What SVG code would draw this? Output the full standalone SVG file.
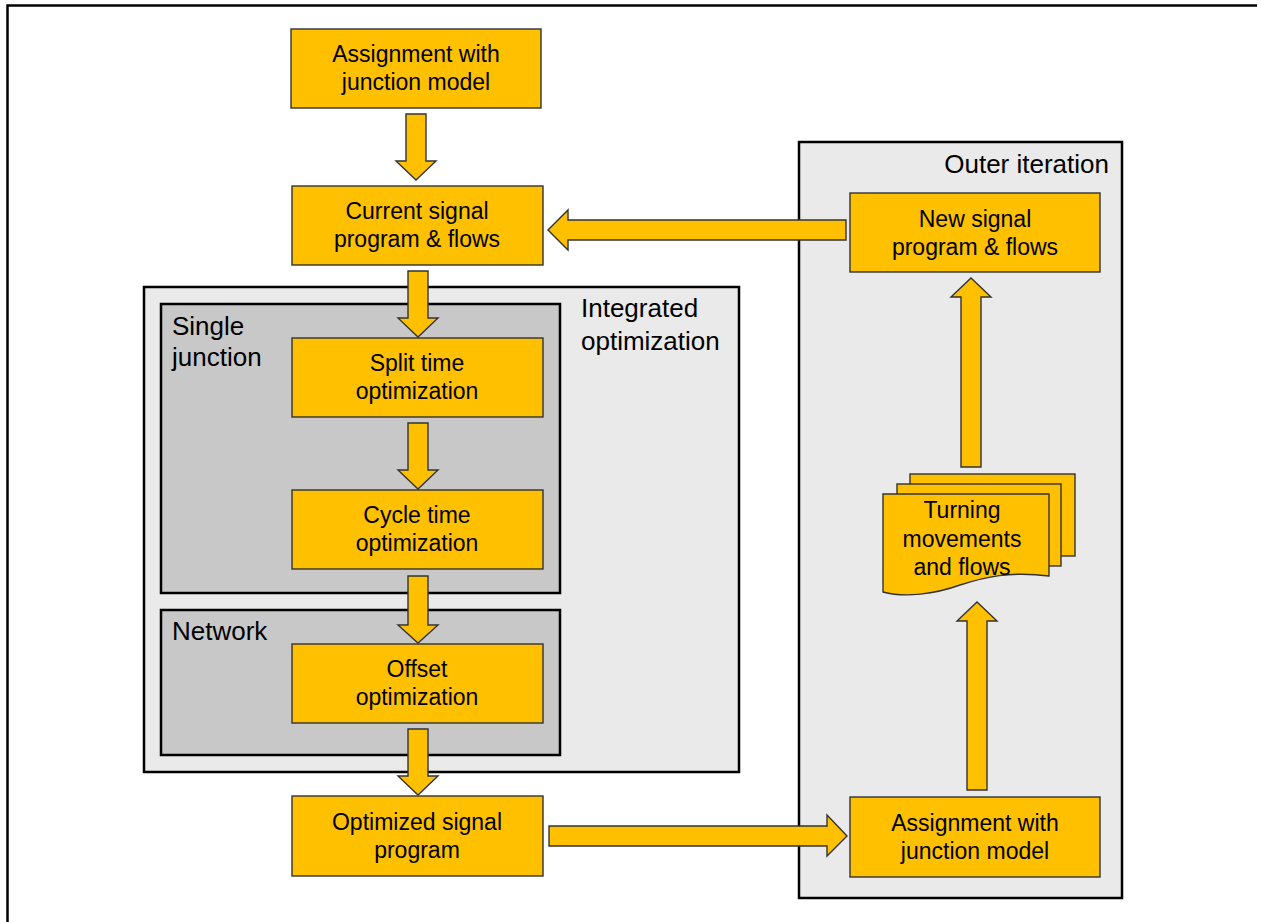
<svg xmlns="http://www.w3.org/2000/svg" width="1261" height="922" viewBox="0 0 1261 922">
<style>
.node{fill:#FFC000;stroke:#333;stroke-width:1.4}
.arrow{fill:#FFC000;stroke:#333;stroke-width:1.4;stroke-linejoin:miter}
.outer{fill:#EAEAEA;stroke:#000;stroke-width:2.5}
.inner{fill:#C8C8C8;stroke:#000;stroke-width:2.5}
.lbl{font-family:"Liberation Sans",Arial,sans-serif;font-size:23px;fill:#000;text-anchor:middle}
.grp{font-family:"Liberation Sans",Arial,sans-serif;font-size:26px;fill:#000}
</style>
<rect width="1261" height="922" fill="#fff"/>
<path d="M7.5,935 V5.5 H1257" fill="none" stroke="#000" stroke-width="2.5"/>

<g id="integrated">
<rect class="outer" x="144" y="287" width="595" height="485"/>
<text class="grp" x="581" y="317">Integrated</text>
<text class="grp" x="581" y="350">optimization</text>
</g>
<g id="single-junction">
<rect class="inner" x="161" y="304" width="399" height="289"/>
<text class="grp" x="172" y="335">Single</text>
<text class="grp" x="172" y="366">junction</text>
</g>
<g id="network">
<rect class="inner" x="161" y="610" width="399" height="145"/>
<text class="grp" x="172" y="640">Network</text>
</g>
<g id="outer-iteration">
<rect class="outer" x="799" y="142" width="323" height="756"/>
<text class="grp" x="1109" y="173" text-anchor="end">Outer iteration</text>
</g>

<g id="assignment-top">
<rect class="node" x="291" y="29" width="250" height="79"/>
<text class="lbl" x="416" y="62">Assignment with</text>
<text class="lbl" x="416" y="90">junction model</text>
</g>
<g id="current-signal">
<rect class="node" x="292" y="186" width="251" height="79"/>
<text class="lbl" x="417" y="219">Current signal</text>
<text class="lbl" x="417" y="247">program &amp; flows</text>
</g>
<g id="split-time">
<rect class="node" x="292" y="338" width="251" height="79"/>
<text class="lbl" x="417" y="371">Split time</text>
<text class="lbl" x="417" y="399">optimization</text>
</g>
<g id="cycle-time">
<rect class="node" x="292" y="490" width="251" height="79"/>
<text class="lbl" x="417" y="523">Cycle time</text>
<text class="lbl" x="417" y="551">optimization</text>
</g>
<g id="offset">
<rect class="node" x="292" y="644" width="251" height="79"/>
<text class="lbl" x="417" y="677">Offset</text>
<text class="lbl" x="417" y="705">optimization</text>
</g>
<g id="optimized">
<rect class="node" x="292" y="796" width="251" height="80"/>
<text class="lbl" x="417" y="830">Optimized signal</text>
<text class="lbl" x="417" y="858">program</text>
</g>
<g id="assignment-right">
<rect class="node" x="850" y="797" width="250" height="80"/>
<text class="lbl" x="975" y="831">Assignment with</text>
<text class="lbl" x="975" y="859">junction model</text>
</g>
<g id="new-signal">
<rect class="node" x="850" y="193" width="250" height="79"/>
<text class="lbl" x="975" y="227">New signal</text>
<text class="lbl" x="975" y="255">program &amp; flows</text>
</g>
<g id="turning">
<rect class="node" x="910" y="474" width="165" height="82"/>
<rect class="node" x="897" y="484" width="164" height="82"/>
<path class="node" d="M883,494 H1049 V576 C1010,571 985,577 960,585 C935,594 905,598 883,592 Z"/>
<text class="lbl" x="962" y="518">Turning</text>
<text class="lbl" x="962" y="547">movements</text>
<text class="lbl" x="962" y="575">and flows</text>
</g>

<g id="connectors">
<polygon class="arrow" points="406,114 426,114 426,161 436,161 416,180 396,161 406,161"/>
<polygon class="arrow" points="408,271 428,271 428,318 438,318 418,337 398,318 408,318"/>
<polygon class="arrow" points="408,423 428,423 428,470 438,470 418,489 398,470 408,470"/>
<polygon class="arrow" points="408,576 428,576 428,625 438,625 418,643 398,625 408,625"/>
<polygon class="arrow" points="408,729 428,729 428,776 438,776 418,795 398,776 408,776"/>
<polygon class="arrow" points="846,220 846,240 568,240 568,250 548,230 568,210 568,220"/>
<polygon class="arrow" points="549,826 827,826 827,815 847,836 827,856 827,846 549,846"/>
<polygon class="arrow" points="961,467 981,467 981,297 991,297 971,278 951,297 961,297"/>
<polygon class="arrow" points="967,790 987,790 987,621 997,621 977,602 957,621 967,621"/>
</g>
</svg>
